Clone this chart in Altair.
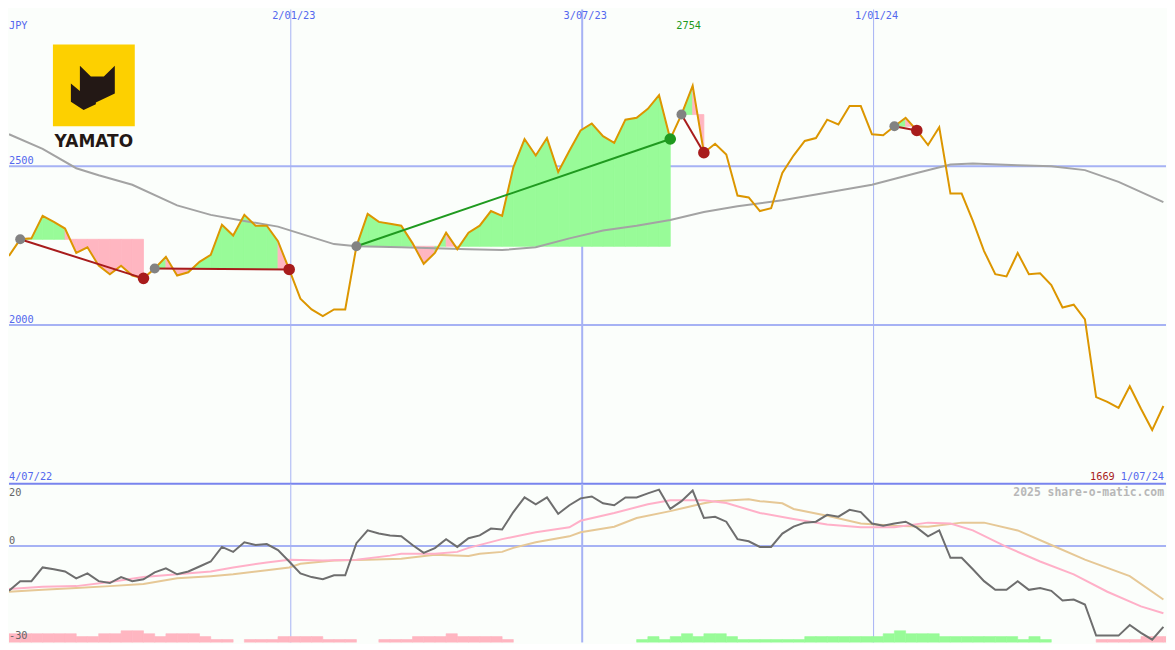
import altair as alt
import pandas as pd

# ---------------- data ----------------
START_DATE = "2022-07-10"          # first weekly point
weeks = list(range(104))
price = [2218, 2270, 2273, 2344, 2325, 2304, 2227, 2245, 2187, 2160,
         2187, 2156, 2147, 2178, 2215, 2156, 2166, 2199, 2221, 2316,
         2282, 2347, 2313, 2313, 2264, 2175, 2083, 2049, 2028, 2049,
         2049, 2248, 2350, 2325, 2319, 2313, 2258, 2193, 2227, 2291,
         2239, 2291, 2313, 2359, 2344, 2497, 2586, 2534, 2589, 2482,
         2549, 2613, 2635, 2595, 2574, 2647, 2653, 2681, 2724, 2586,
         2663, 2754, 2543, 2571, 2537, 2408, 2402, 2359, 2368, 2479,
         2534, 2580, 2589, 2647, 2632, 2690, 2690, 2601, 2598, 2626,
         2653, 2613, 2567, 2623, 2414, 2414, 2328, 2233, 2160, 2153,
         2227, 2160, 2163, 2126, 2055, 2064, 2018, 1773, 1758, 1739,
         1807, 1736, 1669, 1745]

ma_weeks = [0, 3, 6, 8, 11, 15, 18, 21, 24, 26, 29, 31, 35, 41, 44, 47, 50, 53, 56, 59,
            62, 65, 69, 72, 77, 81, 84, 86, 90, 93, 96, 99, 103]
ma_vals = [2601, 2555, 2494, 2472, 2442, 2377, 2347, 2328, 2310, 2288, 2255, 2248, 2245,
           2239, 2236, 2245, 2273, 2298, 2313, 2331, 2356, 2374, 2393, 2411, 2442, 2479,
           2506, 2509, 2503, 2500, 2488, 2451, 2387]

trade_entry = [1, 13, 31, 60, 79]
trade_exit = [12, 25, 59, 62, 81]

momentum = [-14.4, -11.3, -11.3, -6.9, -7.5, -8.2, -10.4, -8.8, -11.3, -11.9,
            -10.0, -11.3, -10.7, -8.5, -7.2, -9.1, -8.2, -6.6, -5.0, -0.3,
            -1.9, 1.2, 0.3, 0.6, -1.3, -5.0, -8.8, -10.0, -10.7, -9.4,
            -9.4, 0.9, 5.0, 4.0, 3.4, 3.1, 0.3, -2.2, -0.7, 2.2,
            -0.3, 2.5, 3.4, 5.6, 5.3, 10.9, 15.6, 13.4, 15.6, 10.3,
            13.1, 15.3, 15.9, 13.7, 13.1, 15.6, 15.6, 16.9, 18.1, 11.9,
            14.4, 17.8, 9.0, 9.4, 7.8, 2.2, 1.5, -0.3, -0.3, 4.0,
            6.2, 7.5, 7.8, 10.0, 9.4, 11.6, 10.9, 7.2, 6.5, 7.2,
            7.8, 5.9, 3.1, 5.0, -3.8, -3.8, -7.5, -11.3, -14.1, -14.1,
            -11.3, -14.1, -13.5, -14.4, -17.5, -17.2, -18.8, -28.8, -28.8, -28.8,
            -25.4, -27.9, -30.1, -26.0]

pink_weeks = [0, 3, 6, 9, 12, 15, 18, 20, 23, 25, 28, 31, 34, 35, 38, 40, 41, 44, 47, 50,
              51, 54, 57, 59, 62, 64, 67, 70, 73, 76, 79, 82, 84, 86, 89, 92, 95, 98, 101, 103]
pink_vals = [-13.8, -13.1, -12.9, -11.6, -10.0, -9.1, -8.2, -6.9, -5.3, -4.4,
             -4.7, -4.4, -3.1, -2.5, -2.5, -1.9, -0.6, 2.2, 4.4, 6.0,
             8.1, 10.6, 13.4, 14.7, 14.7, 13.8, 10.6, 8.7, 6.9, 6.0,
             6.0, 7.5, 7.2, 5.0, -0.3, -5.0, -9.1, -14.7, -19.4, -21.6]

tan_weeks = [0, 3, 6, 9, 12, 15, 18, 20, 23, 25, 26, 29, 32, 35, 38, 41, 42, 44, 45, 47,
             50, 51, 54, 56, 59, 62, 63, 66, 67, 69, 70, 73, 76, 79, 82, 85, 87, 90, 93, 96,
             100, 103]
tan_vals = [-14.7, -14.1, -13.5, -12.9, -12.2, -10.4, -9.7, -9.1, -7.8, -6.9,
            -5.7, -4.7, -4.4, -4.1, -2.8, -3.2, -2.5, -1.9, -0.6, 1.2,
            3.1, 4.4, 6.2, 9.0, 11.2, 13.7, 14.4, 15.0, 14.4, 13.7,
            11.9, 9.7, 7.2, 6.5, 6.2, 7.5, 7.5, 5.0, 0.3, -4.4,
            -9.7, -17.2]

hist = ([-3] * 6 + [-2] * 2 + [-3] * 2 + [-4] * 2 + [-3] + [-2] + [-3] * 3 + [-2] + [-1] * 2
        + [0] + [-1] * 3 + [-2] * 4 + [-1] * 3 + [0] * 2 + [-1] * 3 + [-2] * 3 + [-3]
        + [-2] * 4 + [-1] + [0] * 11 + [1, 2, 1, 2, 3, 2, 3, 3, 2] + [1] * 6 + [2] * 7
        + [3, 4, 3, 3, 3] + [2] * 7 + [1, 2, 1] + [0] * 4 + [-1] * 4 + [-2] * 3)

grid_dates = ["2023-01-02", "2023-07-03", "2024-01-01"]
grid_labels = ["2/01/23", "3/07/23", "1/01/24"]
grid_widths = [1, 2, 1]
price_grid = [2500, 2000]
range_labels = ["4/07/22", "1/07/24"]
mom_labels = ["20", "0", "-30"]

# ---------------- layout (reference pixels -> chart pixels) ----------------
W, H = 1159, 634                    # whole chart, fits the page without scrolling
SX, SY = W / 1175, H / 650
TOP_H = round(487 * SY)
BOT_H = H - TOP_H
px = lambda x: x * SX               # reference x -> chart x
py = lambda y: y * SY               # reference y -> chart y (top panel)
pyb = lambda y: (y - 487) * SY      # reference y -> chart y (bottom panel)

PX_PER_DAY = 1.626
XMIN, XMAX = 0, 1175 / PX_PER_DAY
GREEN_FILL, PINK_FILL = "#98fb98", "#ffb6c1"
WIN, LOSS = "#1f9a1f", "#a81c1c"
BLUE_TXT = "#5468ee"
GRID = "#a6b2f4"
MONO = "DejaVu Sans Mono"
FS = 10.3

xs = alt.Scale(domain=[XMIN, XMAX], nice=False, zero=False)
ys_top = alt.Scale(domain=[1500, 2993.9], nice=False, zero=False)
ys_bot = alt.Scale(domain=[-31, 20], nice=False, zero=False)
ys_hist = alt.Scale(domain=[0, 163 / 3], nice=False, zero=False)

start = pd.Timestamp(START_DATE)
price_df = pd.DataFrame({"d": [7 * i for i in weeks], "p": price})
ma_df = pd.DataFrame({"d": [7 * w for w in ma_weeks], "p": ma_vals})
vgrid_df = pd.DataFrame({
    "d": [(pd.Timestamp(g) - start).days for g in grid_dates],
    "w": grid_widths, "label": grid_labels})
hgrid_df = pd.DataFrame({"p": price_grid, "label": [str(v) for v in price_grid]})

fill_rows, tl_rows, entry_rows, exit_rows = [], [], [], []
for t, (a, b) in enumerate(zip(trade_entry, trade_exit)):
    lvl = price[a]
    for i in range(a, b):
        c = GREEN_FILL if price[i + 1] >= lvl else PINK_FILL
        seg = f"{t}-{i}"
        fill_rows.append(dict(seg=seg, d=7 * i, p=price[i], lvl=lvl, c=c))
        fill_rows.append(dict(seg=seg, d=7 * (i + 1), p=price[i + 1], lvl=lvl, c=c))
    oc = WIN if price[b] > lvl else LOSS
    tl_rows.append(dict(t=t, d=7 * a, p=price[a], c=oc))
    tl_rows.append(dict(t=t, d=7 * b, p=price[b], c=oc))
    entry_rows.append(dict(d=7 * a, p=price[a]))
    exit_rows.append(dict(d=7 * b, p=price[b], c=oc))
fill_df = pd.DataFrame(fill_rows)
tl_df = pd.DataFrame(tl_rows)
entry_df = pd.DataFrame(entry_rows)
exit_df = pd.DataFrame(exit_rows)

X = lambda: alt.X("d:Q", scale=xs, axis=None)
YT = lambda f="p:Q": alt.Y(f, scale=ys_top, axis=None)
one = pd.DataFrame({"k": [0]})


def label(text, x, y, align="left", color=BLUE_TXT, size=FS, weight="normal", font=MONO):
    return alt.Chart(one).mark_text(
        text=text, align=align, baseline="alphabetic", font=font, fontSize=size,
        fontWeight=weight, color=color
    ).encode(x=alt.value(x), y=alt.value(y))


# ---------------- top panel ----------------
vgrid_top = alt.Chart(vgrid_df).mark_rule(color=GRID).encode(
    x=X(), strokeWidth=alt.StrokeWidth("w:Q", scale=None))
hgrid = alt.Chart(hgrid_df).mark_rule(color=GRID, strokeWidth=2).encode(y=YT())
sep = alt.Chart(pd.DataFrame({"p": [1500]})).mark_rule(color="#7884ee", strokeWidth=2).encode(y=YT())

fills = alt.Chart(fill_df).mark_area(clip=True, opacity=1, strokeWidth=0.8, interpolate="linear").encode(
    x=X(), y=alt.Y("p:Q", scale=ys_top, axis=None, stack=None), y2="lvl:Q",
    detail="seg:N", color=alt.Color("c:N", scale=None), stroke=alt.Stroke("c:N", scale=None))
ma_line = alt.Chart(ma_df).mark_line(clip=True, color="#a3a3a3", strokeWidth=2).encode(x=X(), y=YT())
price_line = alt.Chart(price_df).mark_line(clip=True, color="#dc9600", strokeWidth=2).encode(x=X(), y=YT())
trade_lines = alt.Chart(tl_df).mark_line(strokeWidth=2).encode(
    x=X(), y=YT(), detail="t:N", color=alt.Color("c:N", scale=None))
entry_dots = alt.Chart(entry_df).mark_circle(size=100, color="#828282", opacity=1).encode(x=X(), y=YT())
exit_dots = alt.Chart(exit_df).mark_circle(size=135, opacity=1).encode(
    x=X(), y=YT(), color=alt.Color("c:N", scale=None))

price_lbl = alt.Chart(hgrid_df).mark_text(
    align="left", baseline="alphabetic", dy=-2, font=MONO, fontSize=FS, color=BLUE_TXT
).encode(x=alt.value(0), y=YT(), text="label:N")
date_lbl = alt.Chart(vgrid_df).mark_text(
    align="center", baseline="alphabetic", dx=3, font=MONO, fontSize=FS, color=BLUE_TXT
).encode(x=X(), y=alt.value(9), text="label:N")
imax = price.index(max(price))
max_lbl = alt.Chart(pd.DataFrame({"d": [7 * imax], "t": [str(max(price))]})).mark_text(
    align="center", baseline="alphabetic", dx=-4, font=MONO, fontSize=FS, color=WIN
).encode(x=X(), y=alt.value(19), text="t:N")
jpy_lbl = label("JPY", 0, 19)
min_lbl = label(str(min(price)), px(1123), py(483), align="right", color=LOSS)
end_lbl = label(range_labels[1], W - 2, py(483), align="right")
start_lbl = label(range_labels[0], 0, py(483))

# logo (placed at its page position in the reference)
logo_bg = alt.Chart(one).mark_rect(color="#fdd000").encode(
    x=alt.value(44), x2=alt.value(126), y=alt.value(35), y2=alt.value(117))
CAT = ("M -0.341 -0.480 L -0.073 -0.220 L 0.244 -0.220 L 0.512 -0.480 L 0.512 0.195 "
       "L 0.049 0.420 L 0.049 0.460 L -0.251 0.602 L -0.561 0.398 L -0.561 -0.049 "
       "L -0.341 0.139 Z")
logo_cat = alt.Chart(one).mark_point(
    shape=CAT, filled=True, size=82 ** 2, color="#231815", opacity=1, strokeWidth=0
).encode(x=alt.value(85), y=alt.value(76))
logo_txt = label("YAMATO", 85, 138, align="center", color="#231815",
                 size=17, weight="bold", font="DejaVu Sans")

top = alt.layer(
    vgrid_top, hgrid, fills, ma_line, price_line, trade_lines, entry_dots, exit_dots,
    price_lbl, date_lbl, jpy_lbl, max_lbl, min_lbl, end_lbl, start_lbl,
    logo_bg, logo_cat, logo_txt, sep
).properties(width=W, height=TOP_H)

# ---------------- bottom panel ----------------
mom_df = pd.DataFrame({"d": [7 * i for i in weeks], "v": momentum})
pink_df = pd.DataFrame({"d": [7 * w for w in pink_weeks], "v": pink_vals})
tan_df = pd.DataFrame({"d": [7 * w for w in tan_weeks], "v": tan_vals})
hist_df = pd.DataFrame({
    "d0": [7 * i for i in weeks], "d1": [7 * i + 7 for i in weeks],
    "h0": [0] * len(weeks), "h1": [abs(h) for h in hist],
    "c": [GREEN_FILL if h > 0 else PINK_FILL for h in hist]})
hist_df = hist_df[hist_df["h1"] > 0]
YB = lambda: alt.Y("v:Q", scale=ys_bot, axis=None)

vgrid_bot = alt.Chart(vgrid_df).mark_rule(color=GRID).encode(
    x=X(), strokeWidth=alt.StrokeWidth("w:Q", scale=None))
zero_rule = alt.Chart(pd.DataFrame({"v": [0]})).mark_rule(color=GRID, strokeWidth=2).encode(y=YB())
bars = alt.Chart(hist_df).mark_rect(clip=True, opacity=1, strokeWidth=0.6).encode(
    x=alt.X("d0:Q", scale=xs, axis=None), x2="d1:Q",
    y=alt.Y("h0:Q", scale=ys_hist, axis=None), y2="h1:Q",
    color=alt.Color("c:N", scale=None), stroke=alt.Stroke("c:N", scale=None))
tan_line = alt.Chart(tan_df).mark_line(clip=True, color="#e6c896", strokeWidth=2).encode(x=X(), y=YB())
pink_line = alt.Chart(pink_df).mark_line(clip=True, color="#ffb0c8", strokeWidth=2).encode(x=X(), y=YB())
mom_line = alt.Chart(mom_df).mark_line(clip=True, color="#6e6e6e", strokeWidth=2).encode(x=X(), y=YB())
lbl20 = label(mom_labels[0], 0, pyb(499.3), color="#666666")
lbl0 = label(mom_labels[1], 0, pyb(549.3), color="#666666")
lbl30 = label(mom_labels[2], 0, pyb(646), color="#666666")
wm = label("2025 share-o-matic.com", W - 2, pyb(500), align="right", color="#b8b8b8",
           size=11.4, weight="bold")

bottom = alt.layer(
    vgrid_bot, zero_rule, bars, tan_line, pink_line, mom_line, lbl20, lbl0, lbl30, wm
).resolve_scale(y="independent").properties(width=W, height=BOT_H)

chart = alt.vconcat(top, bottom, spacing=0, bounds="flush").properties(
    padding=0, background="#fbfefb"
).configure_view(stroke=None, fill=None)

chart.save("out.html", embed_options={"renderer": "svg", "actions": False})
